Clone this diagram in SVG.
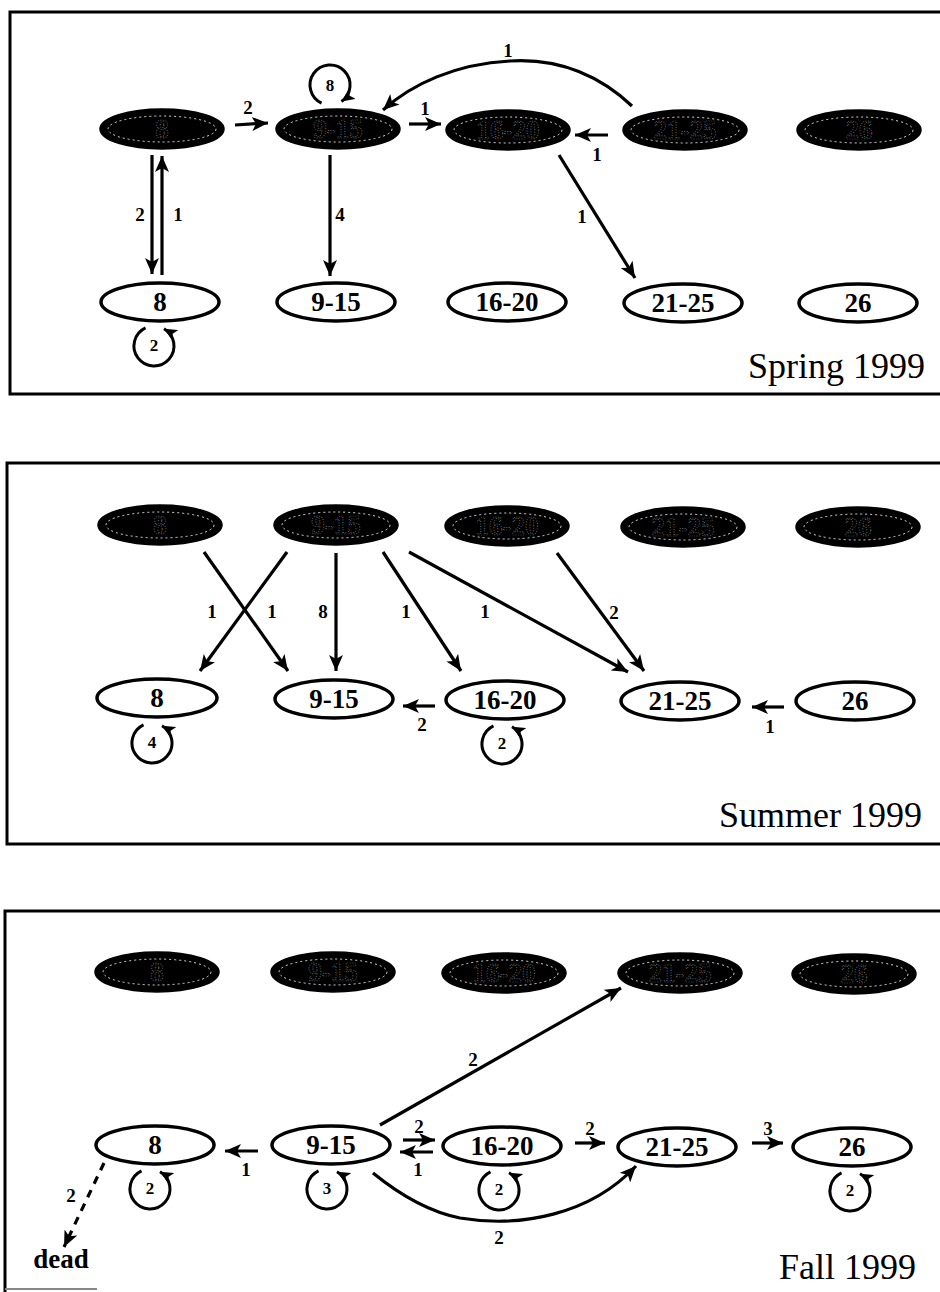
<svg xmlns="http://www.w3.org/2000/svg" width="940" height="1292" viewBox="0 0 940 1292">
<style>
.frame{fill:none;stroke:#000;stroke-width:3}
.dk .o{fill:#000;stroke:#000;stroke-width:3.5}
.dk .i{fill:none;stroke:#fff;stroke-width:1;stroke-dasharray:2 3;opacity:.85}
.dk text{font-family:"Liberation Serif",serif;font-weight:bold;font-size:27px;text-anchor:middle;fill:#000;stroke:#8a8a8a;stroke-width:.7;stroke-dasharray:1 1.5}
.wn ellipse{fill:#fff;stroke:#000;stroke-width:3.5}
.wn text{font-family:"Liberation Serif",serif;font-weight:bold;font-size:27px;text-anchor:middle;fill:#000}
.e{fill:none;stroke:#000;stroke-width:3.2;marker-end:url(#ah)}
.d{fill:none;stroke:#000;stroke-width:3.2;stroke-dasharray:8 7;marker-end:url(#ah)}
.lp{fill:none;stroke:#000;stroke-width:3;marker-end:url(#ahs)}
.lb{font-family:"Liberation Serif",serif;font-weight:bold;font-size:19px;text-anchor:middle;fill:#000}
.ll{font-family:"Liberation Serif",serif;font-weight:bold;font-size:17px;text-anchor:middle;fill:#000}
.tt{font-family:"Liberation Serif",serif;font-size:36px;text-anchor:end;fill:#000}
.dead{font-family:"Liberation Serif",serif;font-weight:bold;font-size:27px;text-anchor:middle;fill:#000}
</style>
<defs>
<marker id="ah" markerUnits="userSpaceOnUse" markerWidth="17" markerHeight="14" refX="16" refY="7" orient="auto">
<path d="M0,0 L16,7 L0,14 L4,7 z" fill="#000"/>
</marker>
<marker id="ahs" markerUnits="userSpaceOnUse" markerWidth="14" markerHeight="12" refX="13" refY="6" orient="auto">
<path d="M0,0 L13,6 L0,12 L3,6 z" fill="#000"/>
</marker>
</defs>
<rect width="940" height="1292" fill="#fff"/>

<g id="frames">
<rect class="frame" x="10" y="12" width="960" height="382"/>
<rect class="frame" x="7" y="463" width="960" height="381"/>
<path class="frame" d="M5,1300 L5,911 L945,911"/>
<line x1="5" y1="1289" x2="97" y2="1289" stroke="#888" stroke-width="2"/>
</g>

<!-- Spring 1999 -->
<g id="spring">
<g id="sp-d8" class="dk"><ellipse class="o" cx="162" cy="129" rx="61" ry="19"/><ellipse class="i" cx="162" cy="129" rx="54" ry="13"/><text x="162" y="138">8</text></g>
<g id="sp-d9" class="dk"><ellipse class="o" cx="338" cy="129" rx="61" ry="19"/><ellipse class="i" cx="338" cy="129" rx="54" ry="13"/><text x="338" y="138">9-15</text></g>
<g id="sp-d16" class="dk"><ellipse class="o" cx="508" cy="130" rx="61" ry="19"/><ellipse class="i" cx="508" cy="130" rx="54" ry="13"/><text x="508" y="139">16-20</text></g>
<g id="sp-d21" class="dk"><ellipse class="o" cx="685" cy="130" rx="61" ry="19"/><ellipse class="i" cx="685" cy="130" rx="54" ry="13"/><text x="685" y="139">21-25</text></g>
<g id="sp-d26" class="dk"><ellipse class="o" cx="859" cy="130" rx="61" ry="19"/><ellipse class="i" cx="859" cy="130" rx="54" ry="13"/><text x="859" y="139">26</text></g>
<g id="sp-w8" class="wn"><ellipse cx="160" cy="302" rx="59" ry="19"/><text x="160" y="311">8</text></g>
<g id="sp-w9" class="wn"><ellipse cx="336" cy="302" rx="59" ry="19"/><text x="336" y="311">9-15</text></g>
<g id="sp-w16" class="wn"><ellipse cx="507" cy="302" rx="59" ry="19"/><text x="507" y="311">16-20</text></g>
<g id="sp-w21" class="wn"><ellipse cx="683" cy="303" rx="59" ry="19"/><text x="683" y="312">21-25</text></g>
<g id="sp-w26" class="wn"><ellipse cx="858" cy="303" rx="59" ry="19"/><text x="858" y="312">26</text></g>
<text class="tt" x="925" y="378">Spring 1999</text>
</g>

<!-- Summer 1999 -->
<g id="summer">
<g id="su-d8" class="dk"><ellipse class="o" cx="160" cy="525" rx="61" ry="19"/><ellipse class="i" cx="160" cy="525" rx="54" ry="13"/><text x="160" y="534">8</text></g>
<g id="su-d9" class="dk"><ellipse class="o" cx="336" cy="525" rx="61" ry="19"/><ellipse class="i" cx="336" cy="525" rx="54" ry="13"/><text x="336" y="534">9-15</text></g>
<g id="su-d16" class="dk"><ellipse class="o" cx="507" cy="526" rx="61" ry="19"/><ellipse class="i" cx="507" cy="526" rx="54" ry="13"/><text x="507" y="535">16-20</text></g>
<g id="su-d21" class="dk"><ellipse class="o" cx="683" cy="527" rx="61" ry="19"/><ellipse class="i" cx="683" cy="527" rx="54" ry="13"/><text x="683" y="536">21-25</text></g>
<g id="su-d26" class="dk"><ellipse class="o" cx="858" cy="527" rx="61" ry="19"/><ellipse class="i" cx="858" cy="527" rx="54" ry="13"/><text x="858" y="536">26</text></g>
<g id="su-w8" class="wn"><ellipse cx="157" cy="698" rx="60" ry="19"/><text x="157" y="707">8</text></g>
<g id="su-w9" class="wn"><ellipse cx="334" cy="699" rx="59" ry="19"/><text x="334" y="708">9-15</text></g>
<g id="su-w16" class="wn"><ellipse cx="505" cy="700" rx="59" ry="19"/><text x="505" y="709">16-20</text></g>
<g id="su-w21" class="wn"><ellipse cx="680" cy="701" rx="59" ry="19"/><text x="680" y="710">21-25</text></g>
<g id="su-w26" class="wn"><ellipse cx="855" cy="701" rx="59" ry="19"/><text x="855" y="710">26</text></g>
<text class="tt" x="922" y="827">Summer 1999</text>
</g>

<!-- Fall 1999 -->
<g id="fall">
<g id="fa-d8" class="dk"><ellipse class="o" cx="157" cy="972" rx="61" ry="19"/><ellipse class="i" cx="157" cy="972" rx="54" ry="13"/><text x="157" y="981">8</text></g>
<g id="fa-d9" class="dk"><ellipse class="o" cx="333" cy="972" rx="61" ry="19"/><ellipse class="i" cx="333" cy="972" rx="54" ry="13"/><text x="333" y="981">9-15</text></g>
<g id="fa-d16" class="dk"><ellipse class="o" cx="504" cy="973" rx="61" ry="19"/><ellipse class="i" cx="504" cy="973" rx="54" ry="13"/><text x="504" y="982">16-20</text></g>
<g id="fa-d21" class="dk"><ellipse class="o" cx="680" cy="973" rx="61" ry="19"/><ellipse class="i" cx="680" cy="973" rx="54" ry="13"/><text x="680" y="982">21-25</text></g>
<g id="fa-d26" class="dk"><ellipse class="o" cx="854" cy="974" rx="61" ry="19"/><ellipse class="i" cx="854" cy="974" rx="54" ry="13"/><text x="854" y="983">26</text></g>
<g id="fa-w8" class="wn"><ellipse cx="155" cy="1145" rx="59" ry="19"/><text x="155" y="1154">8</text></g>
<g id="fa-w9" class="wn"><ellipse cx="331" cy="1145" rx="59" ry="19"/><text x="331" y="1154">9-15</text></g>
<g id="fa-w16" class="wn"><ellipse cx="502" cy="1146" rx="59" ry="19"/><text x="502" y="1155">16-20</text></g>
<g id="fa-w21" class="wn"><ellipse cx="677" cy="1147" rx="59" ry="19"/><text x="677" y="1156">21-25</text></g>
<g id="fa-w26" class="wn"><ellipse cx="852" cy="1147" rx="59" ry="19"/><text x="852" y="1156">26</text></g>
<g id="fa-dead"><text class="dead" x="61" y="1268">dead</text></g>
<text class="tt" x="916" y="1279">Fall 1999</text>
</g>

<g id="connectors">
<!-- spring -->
<path class="e" d="M235,125 L268,123"/><text class="lb" x="248" y="114">2</text>
<path class="e" d="M409,124 L441,124"/><text class="lb" x="425" y="115">1</text>
<path class="e" d="M608,135 L575,135"/><text class="lb" x="597" y="161">1</text>
<path class="e" d="M632,106 C600,76 560,58 510,61 C455,64 412,84 383,110"/><text class="lb" x="508" y="57">1</text>
<path class="e" d="M152,155 L152,274"/><text class="lb" x="140" y="221">2</text>
<path class="e" d="M162,275 L162,156"/><text class="lb" x="178" y="221">1</text>
<path class="e" d="M330,155 L330,276"/><text class="lb" x="340" y="221">4</text>
<path class="e" d="M559,155 L635,278"/><text class="lb" x="582" y="223">1</text>
<path class="lp" d="M145.5,327.9 A20,20 0 1 0 164,328.7"/><text class="ll" x="154" y="351">2</text>
<path class="lp" d="M321.5,103.1 A20,20 0 1 1 341.5,101.4"/><text class="ll" x="330" y="91">8</text>
<!-- summer -->
<path class="e" d="M204,552 L288,671"/><text class="lb" x="272" y="618">1</text>
<path class="e" d="M287,552 L200,671"/><text class="lb" x="212" y="618">1</text>
<path class="e" d="M336,553 L336,671"/><text class="lb" x="323" y="618">8</text>
<path class="e" d="M383,552 L461,671"/><text class="lb" x="406" y="618">1</text>
<path class="e" d="M409,552 L628,672"/><text class="lb" x="485" y="618">1</text>
<path class="e" d="M557,553 L644,671"/><text class="lb" x="614" y="619">2</text>
<path class="e" d="M435,706 L403,706"/><text class="lb" x="422" y="731">2</text>
<path class="e" d="M784,707 L752,707"/><text class="lb" x="770" y="733">1</text>
<path class="lp" d="M143.5,724.9 A20,20 0 1 0 162,725.7"/><text class="ll" x="152" y="748">4</text>
<path class="lp" d="M493.5,725.9 A20,20 0 1 0 512,726.7"/><text class="ll" x="502" y="749">2</text>
<!-- fall -->
<path class="e" d="M380,1125 L621,988"/><text class="lb" x="473" y="1066">2</text>
<path class="e" d="M258,1151 L225,1151"/><text class="lb" x="246" y="1176">1</text>
<path class="e" d="M403,1140 L435,1140"/><text class="lb" x="419" y="1133">2</text>
<path class="e" d="M433,1152 L400,1152"/><text class="lb" x="418" y="1176">1</text>
<path class="e" d="M575,1143 L605,1143"/><text class="lb" x="590" y="1135">2</text>
<path class="e" d="M752,1143 L783,1143"/><text class="lb" x="768" y="1135">3</text>
<path class="e" d="M373,1173 C400,1195 430,1212 460,1218 C520,1228 590,1215 636,1166"/><text class="lb" x="499" y="1244">2</text>
<path class="d" d="M104,1163 L64,1247"/><text class="lb" x="71" y="1202">2</text>
<path class="lp" d="M141.5,1170.9 A20,20 0 1 0 160,1171.7"/><text class="ll" x="150" y="1194">2</text>
<path class="lp" d="M318.5,1170.9 A20,20 0 1 0 337,1171.7"/><text class="ll" x="327" y="1194">3</text>
<path class="lp" d="M490.5,1171.9 A20,20 0 1 0 509,1172.7"/><text class="ll" x="499" y="1195">2</text>
<path class="lp" d="M841.5,1172.9 A20,20 0 1 0 860,1173.7"/><text class="ll" x="850" y="1196">2</text>
</g>
</svg>
